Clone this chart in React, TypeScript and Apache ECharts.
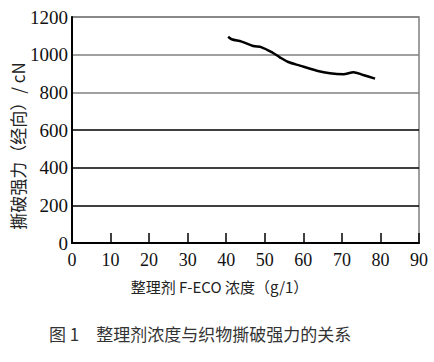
import React, { useEffect, useRef } from "react";
import * as echarts from "echarts";

const concentration = [40.5, 41.4, 44, 47, 49.2, 51.8, 53.9, 56.1, 59.1, 63.5, 66.9, 70.4, 73, 75.5, 78.6];
const tearStrength = [1095, 1082, 1069, 1046, 1039, 1013, 986, 961, 942, 915, 901, 896, 907, 892, 873];
const xName = "整理剂 F-ECO 浓度（g/1）";
const yName = "撕破强力（经向）/ cN";
const caption = "图 1　整理剂浓度与织物撕破强力的关系";

const serif = "'Times New Roman', 'Liberation Serif', serif";
const cjk = "'Noto Sans CJK SC', sans-serif";

export default function App() {
  const ref = useRef<HTMLDivElement>(null);
  useEffect(() => {
    document.body.style.margin = "0";
    if (!ref.current) return;
    const chart = echarts.init(ref.current, null, { renderer: "svg" });
    chart.setOption({
      animation: false,
      backgroundColor: "#ffffff",
      grid: {
        left: 72,
        right: 15,
        top: 17,
        bottom: 119,
        containLabel: false,
        outerBoundsMode: "none",
        show: true,
        borderColor: "#808080",
        borderWidth: 1.5,
      },
      xAxis: {
        type: "value",
        min: 0,
        max: 90,
        interval: 10,
        name: xName,
        nameLocation: "middle",
        nameGap: 36,
        nameMoveOverlap: false,
        nameTextStyle: { fontFamily: cjk, fontSize: 15, color: "#222", padding: [0, 52, 0, 0] },
        axisLine: { show: true, lineStyle: { color: "#000", width: 2 } },
        axisTick: { show: true, inside: true, length: 10, lineStyle: { color: "#000", width: 1.5 } },
        axisLabel: { fontFamily: serif, fontSize: 18, color: "#111", margin: 8 },
        splitLine: { show: false },
      },
      yAxis: {
        type: "value",
        min: 0,
        max: 1200,
        interval: 200,
        name: yName,
        nameLocation: "middle",
        nameGap: 46,
        nameMoveOverlap: false,
        nameRotate: 90,
        nameTextStyle: { fontFamily: cjk, fontSize: 17, color: "#222", padding: [0, 32, 0, 0] },
        axisLine: { show: true, lineStyle: { color: "#000", width: 2 } },
        axisTick: { show: false },
        axisLabel: {
          fontFamily: serif,
          fontSize: 19,
          color: "#111",
          margin: 4,
          formatter: (v: number) => String(v),
        },
        splitLine: {
          show: true,
          lineStyle: {
            color: ["#000", "#000", "#000", "#000", "#808080", "#808080", "#808080"],
            width: 1.5,
          },
        },
      },
      series: [
        {
          type: "line",
          data: concentration.map((x, i) => [x, tearStrength[i]]),
          smooth: 0.3,
          showSymbol: false,
          lineStyle: { color: "#000", width: 2.5 },
        },
      ],
      graphic: [
        {
          type: "text",
          left: 49,
          top: 325,
          style: { text: caption, fontFamily: cjk, fontSize: 17, fill: "#333" },
        },
      ],
    });
    return () => chart.dispose();
  }, []);
  return <div ref={ref} style={{ width: 434, height: 362 }} />;
}
